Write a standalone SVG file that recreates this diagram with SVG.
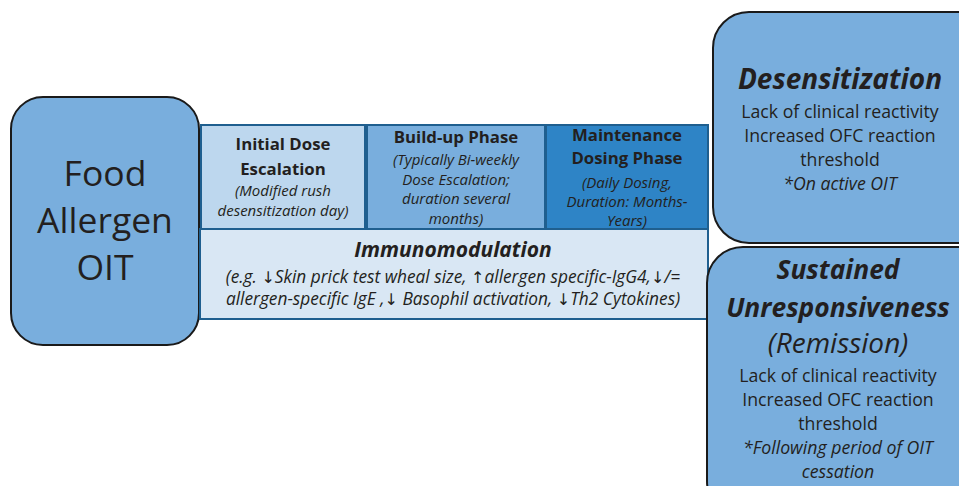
<svg xmlns="http://www.w3.org/2000/svg" width="959" height="486" viewBox="0 0 959 486">
<style>
.t{font-family:"Open Sans","Liberation Sans",sans-serif;fill:#231f20;text-anchor:middle}
.b{font-weight:bold}
.i{font-style:italic}
.node{stroke:#1a1a1a;stroke-width:2}
.ph{stroke:#1f5f8f;stroke-width:2}
.hd{font-size:16.8px;font-weight:bold}
.sm{font-size:15px;font-style:italic}
.body{font-size:17.7px}
.ar{font-family:"DejaVu Sans",sans-serif;font-style:normal;font-size:16px}
</style>
<rect width="959" height="486" fill="#ffffff"/>
<g id="food">
<rect class="node" x="11" y="97" width="188" height="248" rx="32" fill="#79aedd"/>
<text class="t" x="105" y="186" font-size="35.5">Food</text>
<text class="t" x="105" y="233" font-size="35.5">Allergen</text>
<text class="t" x="105" y="280" font-size="35.5">OIT</text>
</g>
<g id="immuno">
<rect class="ph" x="200" y="229" width="508" height="90" fill="#d9e7f4"/>
<text class="t b i" x="453" y="257" font-size="21">Immunomodulation</text>
<text class="t i" x="453" y="283" font-size="17.3">(e.g. <tspan class="ar">↓</tspan>Skin prick test wheal size, <tspan class="ar">↑</tspan>allergen specific-IgG4,<tspan class="ar">↓</tspan>/=</text>
<text class="t i" x="453" y="305" font-size="17.3">allergen-specific IgE ,<tspan class="ar">↓</tspan> Basophil activation, <tspan class="ar">↓</tspan>Th2 Cytokines)</text>
</g>
<g id="initial">
<rect class="ph" x="201" y="125" width="164" height="104" fill="#bdd7ee"/>
<text class="t hd" x="283" y="150">Initial Dose</text>
<text class="t hd" x="283" y="175">Escalation</text>
<text class="t sm" x="283" y="196">(Modified rush</text>
<text class="t sm" x="283" y="216">desensitization day)</text>
</g>
<g id="buildup">
<rect class="ph" x="367" y="125" width="178" height="104" fill="#79aedd"/>
<text class="t hd" x="456" y="143">Build-up Phase</text>
<text class="t sm" x="456" y="165">(Typically Bi-weekly</text>
<text class="t sm" x="456" y="185">Dose Escalation;</text>
<text class="t sm" x="456" y="204">duration several</text>
<text class="t sm" x="456" y="224">months)</text>
</g>
<g id="maintenance">
<rect class="ph" x="546" y="125" width="162" height="104" fill="#2e84c6"/>
<text class="t hd" x="627" y="141">Maintenance</text>
<text class="t hd" x="627" y="164">Dosing Phase</text>
<text class="t sm" x="627" y="188">(Daily Dosing,</text>
<text class="t sm" x="627" y="207">Duration: Months-</text>
<text class="t sm" x="627" y="226">Years)</text>
</g>
<g id="desensitization">
<rect class="node" x="713" y="12" width="280" height="231" rx="36" fill="#79aedd"/>
<text class="t b i" x="840" y="89" font-size="28">Desensitization</text>
<text class="t body" x="840" y="118">Lack of clinical reactivity</text>
<text class="t body" x="840" y="142">Increased OFC reaction</text>
<text class="t body" x="840" y="166">threshold</text>
<text class="t body i" x="840" y="190">*On active OIT</text>
</g>
<g id="sustained">
<rect class="node" x="707" y="247" width="286" height="270" rx="36" fill="#79aedd"/>
<text class="t b i" x="838" y="279" font-size="26.4">Sustained</text>
<text class="t b i" x="838" y="317" font-size="26.4">Unresponsiveness</text>
<text class="t i" x="838" y="353" font-size="28">(Remission)</text>
<text class="t body" x="838" y="382">Lack of clinical reactivity</text>
<text class="t body" x="838" y="406">Increased OFC reaction</text>
<text class="t body" x="838" y="430">threshold</text>
<text class="t body i" x="838" y="454">*Following period of OIT</text>
<text class="t body i" x="838" y="478">cessation</text>
</g>
<g id="connectors"></g>
</svg>
